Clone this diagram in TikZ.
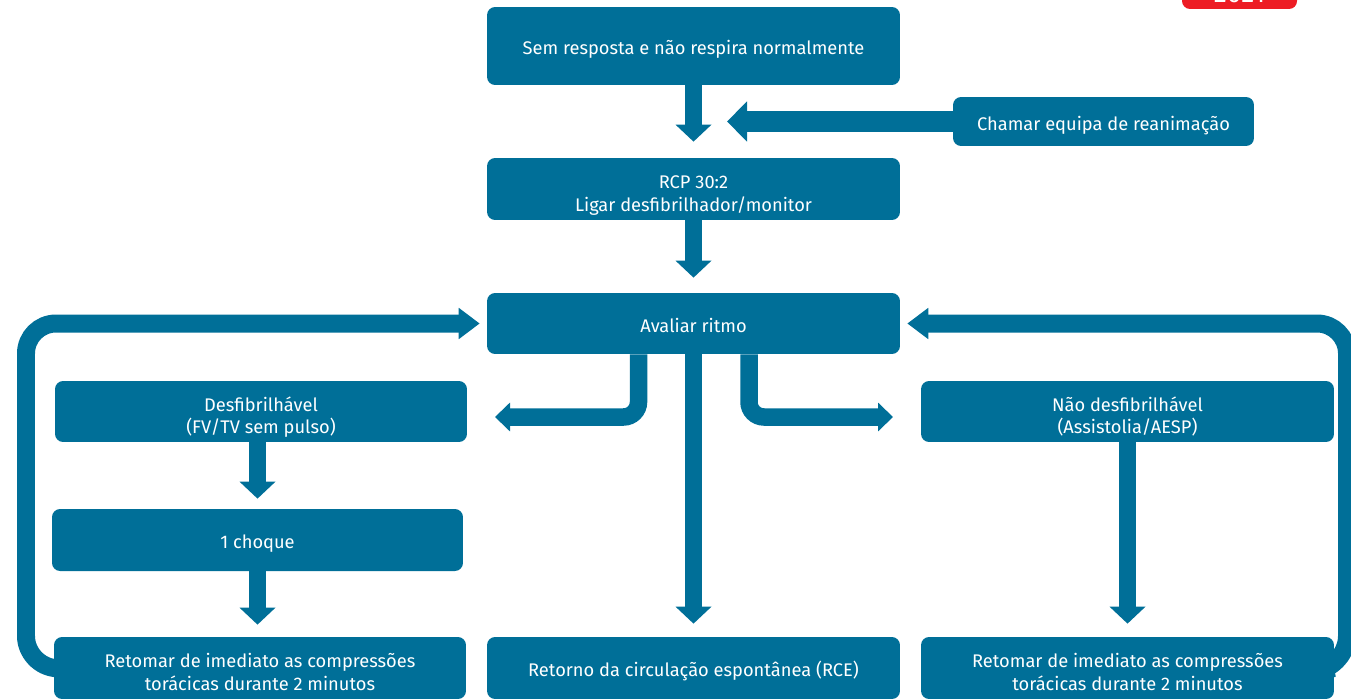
\documentclass[tikz,border=0pt]{standalone}
\usepackage{fontspec}
\setmainfont{Fira Sans}
\usetikzlibrary{arrows.meta}
\definecolor{ercblue}{RGB}{0,111,152}
\definecolor{ercred}{RGB}{237,28,36}

\begin{document}
\begin{tikzpicture}[x=0.02cm,y=-0.02cm,
    box/.style={rectangle, rounded corners=0.16cm, fill=ercblue, text=white, align=center,
        minimum width=8.26cm, minimum height=1.22cm, inner sep=0pt,
        font=\fontsize{10.4}{13}\selectfont,
        execute at begin node={\rule{0pt}{13pt}},
        execute at end node={\rule[-3pt]{0pt}{3pt}}},
    twoline/.style={execute at begin node={\rule{0pt}{28.5pt}}},
    downarrow/.style={draw=ercblue, line width=0.34cm, -{Triangle[width=0.7cm,length=0.34cm]}},
    callarrow/.style={draw=ercblue, line width=0.42cm, -{Triangle[width=0.78cm,length=0.4cm]}},
    looparrow/.style={draw=ercblue, line width=0.36cm, rounded corners=0.6cm,
        -{Triangle[width=0.6cm,length=0.42cm]}},
    brancharrow/.style={draw=ercblue, line width=0.35cm, rounded corners=0.3cm,
        -{Triangle[width=0.56cm,length=0.3cm]}}]
            \useasboundingbox (0,0) rectangle (1351,699);
            \clip (0,0) rectangle (1351,699);
            % year badge, cut by the top edge
            \node[rectangle, rounded corners=0.16cm, fill=ercred, text=white, minimum width=2.3cm,
                minimum height=0.6cm, font=\fontsize{15}{15}\selectfont] (year) at (1239.5,-6) {2021};
            % boxes
            \node[box, minimum height=1.56cm] (sem) at (693.5,46) {Sem resposta e não respira normalmente};
            \node[box, minimum width=6.02cm, minimum height=0.98cm] (chamar) at (1103.5,121.5) {Chamar equipa de reanimação};
            \node[box, twoline, minimum height=1.24cm] (rcp) at (693.5,189) {RCP 30:2\\Ligar desfibrilhador/monitor};
            \node[box] (avaliar) at (693.5,323.5) {Avaliar ritmo};
            \node[box, twoline, minimum width=8.24cm] (desfib) at (261,411.5) {Desfibrilhável\\(FV/TV sem pulso)};
            \node[box, twoline] (naodesfib) at (1127.5,411.5) {Não desfibrilhável\\(Assistolia/AESP)};
            \node[box, minimum width=8.22cm, minimum height=1.24cm] (choque) at (257.5,540) {1 choque};
            \node[box, twoline, minimum width=8.24cm, minimum height=1.24cm] (retomarL) at (260,668) {Retomar de imediato as compressões\\torácicas durante 2 minutos};
            \node[box, minimum height=1.24cm] (rce) at (693.5,668) {Retorno da circulação espontânea (RCE)};
            \node[box, twoline, minimum height=1.24cm] (retomarR) at (1127.5,668) {Retomar de imediato as compressões\\torácicas durante 2 minutos};
            % free arrow ends
            \coordinate (callin) at (727,121.5);
            \coordinate (toshock) at (495,417);
            \coordinate (tonoshock) at (893,417);
            % straight arrows
            \draw[downarrow, shorten >=0.32cm] (sem.south) -- (rcp.north);
            \draw[downarrow, shorten >=0.3cm] (rcp.south) -- (avaliar.north);
            \draw[downarrow, shorten >=0.2cm] (choque.north |- desfib.south) -- (choque.north);
            \draw[downarrow, shorten >=0.24cm] (choque.south) -- (choque.south |- retomarL.north);
            \draw[downarrow, shorten >=0.26cm] (avaliar.south) -- (rce.north);
            \draw[downarrow, shorten >=0.26cm] (naodesfib.south) -- (retomarR.north);
            \draw[callarrow] (chamar.west) -- (callin);
            % rhythm branches
            \draw[brancharrow] ([xshift=-1.1cm]avaliar.south) |- (toshock);
            \draw[brancharrow] ([xshift=1.11cm]avaliar.south) |- (tonoshock);
            % loops back to rhythm check
            \draw[looparrow, shorten >=0.14cm] (retomarL.west) -- (26,666) |- (avaliar.west);
            \draw[looparrow, shorten >=0.14cm] (retomarR.east) -- (1347,666) |- (avaliar.east);
        \end{tikzpicture}
\end{document}
